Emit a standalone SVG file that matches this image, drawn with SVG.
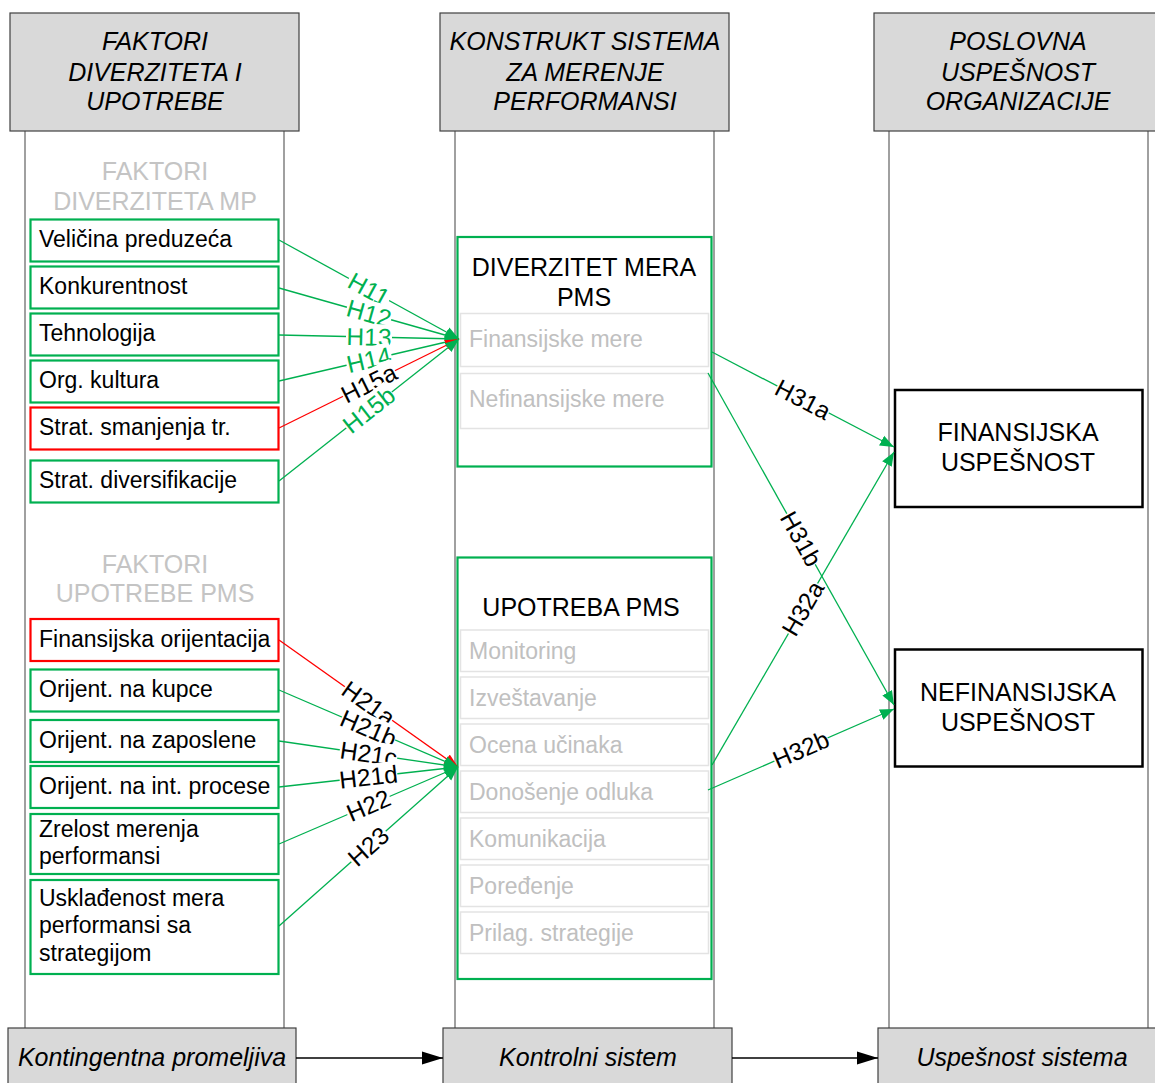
<svg xmlns="http://www.w3.org/2000/svg" width="1155" height="1083" viewBox="0 0 1155 1083">
<defs>
<style>
text{font-family:"Liberation Sans",Arial,sans-serif}
.hdr{fill:#d9d9d9;stroke:#404040;stroke-width:1.2}
.hdrt{font-size:25px;font-style:italic;fill:#000;text-anchor:middle}
.lane{stroke:#808080;stroke-width:1.5;fill:none}
.sec{font-size:25px;fill:#c4c4c4;text-anchor:middle}
.gb{fill:#fff;stroke:#00b050;stroke-width:2.2}
.rb{fill:#fff;stroke:#ff0000;stroke-width:2.2}
.bt{font-size:23px;fill:#000}
.sub{fill:#fff;stroke:#e3e3e3;stroke-width:1.5}
.subt{font-size:23px;fill:#c0c0c0}
.tt{font-size:25px;fill:#000;text-anchor:middle}
.kb{fill:#fff;stroke:#000;stroke-width:2.5}
.cg{stroke:#00b050;stroke-width:1.3;fill:none}
.cr{stroke:#ff0000;stroke-width:1.3;fill:none}
.ck{stroke:#000;stroke-width:1.5;fill:none}
.lbg{fill:#fff}
.lbl{font-size:24.5px;text-anchor:middle}
.lg{fill:#00b050}
.lk{fill:#000}
</style>
<marker id="ag" markerWidth="15" markerHeight="12" refX="14" refY="6" orient="auto" markerUnits="userSpaceOnUse"><path d="M0,0.5 L14,6 L0,11.5 z" fill="#00b050"/></marker>
<marker id="ar" markerWidth="15" markerHeight="12" refX="14" refY="6" orient="auto" markerUnits="userSpaceOnUse"><path d="M0,0.5 L14,6 L0,11.5 z" fill="#ff0000"/></marker>
<marker id="ak" markerWidth="22" markerHeight="14" refX="21" refY="7" orient="auto" markerUnits="userSpaceOnUse"><path d="M0,0.5 L21,7 L0,13.5 z" fill="#000"/></marker>
</defs>
<rect width="1155" height="1083" fill="#fff"/>

<!-- lanes -->
<g id="lanes">
<line class="lane" x1="25" y1="131" x2="25" y2="1028"/>
<line class="lane" x1="284" y1="131" x2="284" y2="1028"/>
<line class="lane" x1="455" y1="131" x2="455" y2="1028"/>
<line class="lane" x1="714" y1="131" x2="714" y2="1028"/>
<line class="lane" x1="889" y1="131" x2="889" y2="1028"/>
<line class="lane" x1="1148" y1="131" x2="1148" y2="1028"/>
</g>

<!-- headers -->
<g id="hdr-left">
<rect class="hdr" x="10" y="13" width="289" height="118"/>
<text class="hdrt" x="155" y="50">FAKTORI</text>
<text class="hdrt" x="155" y="80.5">DIVERZITETA I</text>
<text class="hdrt" x="155" y="110">UPOTREBE</text>
</g>
<g id="hdr-mid">
<rect class="hdr" x="440" y="13" width="289" height="118"/>
<text class="hdrt" x="585" y="50">KONSTRUKT SISTEMA</text>
<text class="hdrt" x="585" y="80.5">ZA MERENJE</text>
<text class="hdrt" x="585" y="110">PERFORMANSI</text>
</g>
<g id="hdr-right">
<rect class="hdr" x="874" y="13" width="289" height="118"/>
<text class="hdrt" x="1018" y="50">POSLOVNA</text>
<text class="hdrt" x="1018" y="80.5">USPEŠNOST</text>
<text class="hdrt" x="1018" y="110">ORGANIZACIJE</text>
</g>

<!-- section labels -->
<g id="sec-div">
<text class="sec" x="155" y="180">FAKTORI</text>
<text class="sec" x="155" y="210">DIVERZITETA MP</text>
</g>
<g id="sec-upo">
<text class="sec" x="155" y="573">FAKTORI</text>
<text class="sec" x="155" y="602">UPOTREBE PMS</text>
</g>

<!-- left boxes -->
<g id="n-velicina"><rect class="gb" x="30.5" y="219.5" width="248" height="42"/><text class="bt" x="39" y="247">Veličina preduzeća</text></g>
<g id="n-konkurentnost"><rect class="gb" x="30.5" y="266.5" width="248" height="42"/><text class="bt" x="39" y="294">Konkurentnost</text></g>
<g id="n-tehnologija"><rect class="gb" x="30.5" y="313.5" width="248" height="42"/><text class="bt" x="39" y="341">Tehnologija</text></g>
<g id="n-orgkultura"><rect class="gb" x="30.5" y="360.5" width="248" height="42"/><text class="bt" x="39" y="388">Org. kultura</text></g>
<g id="n-smanjenja"><rect class="rb" x="30.5" y="407.5" width="248" height="42"/><text class="bt" x="39" y="435">Strat. smanjenja tr.</text></g>
<g id="n-diversif"><rect class="gb" x="30.5" y="460.5" width="248" height="42"/><text class="bt" x="39" y="488">Strat. diversifikacije</text></g>

<g id="n-finor"><rect class="rb" x="30.5" y="619" width="248" height="42"/><text class="bt" x="39" y="647">Finansijska orijentacija</text></g>
<g id="n-kupce"><rect class="gb" x="30.5" y="669.5" width="248" height="42"/><text class="bt" x="39" y="697">Orijent. na kupce</text></g>
<g id="n-zaposlene"><rect class="gb" x="30.5" y="720" width="248" height="42"/><text class="bt" x="39" y="748">Orijent. na zaposlene</text></g>
<g id="n-procese"><rect class="gb" x="30.5" y="766" width="248" height="42"/><text class="bt" x="39" y="794">Orijent. na int. procese</text></g>
<g id="n-zrelost"><rect class="gb" x="30.5" y="814" width="248" height="60"/><text class="bt" x="39" y="837">Zrelost merenja</text><text class="bt" x="39" y="864">performansi</text></g>
<g id="n-uskladjenost"><rect class="gb" x="30.5" y="880" width="248" height="94"/><text class="bt" x="39" y="906">Usklađenost mera</text><text class="bt" x="39" y="933">performansi sa</text><text class="bt" x="39" y="961">strategijom</text></g>

<!-- middle boxes -->
<g id="n-diverzitet">
<rect class="gb" x="457.5" y="237" width="254" height="229.5"/>
<text class="tt" x="584" y="276">DIVERZITET MERA</text>
<text class="tt" x="584" y="306">PMS</text>
<rect class="sub" x="460.5" y="313.5" width="248" height="53"/>
<text class="subt" x="469" y="347">Finansijske mere</text>
<rect class="sub" x="460.5" y="373.5" width="248" height="55"/>
<text class="subt" x="469" y="407">Nefinansijske mere</text>
</g>
<g id="n-upotreba">
<rect class="gb" x="457.5" y="557.5" width="254" height="421.5"/>
<text class="tt" x="581" y="616">UPOTREBA PMS</text>
<rect class="sub" x="460.5" y="630" width="248" height="41.5"/><text class="subt" x="469" y="659">Monitoring</text>
<rect class="sub" x="460.5" y="677" width="248" height="41.5"/><text class="subt" x="469" y="706">Izveštavanje</text>
<rect class="sub" x="460.5" y="724" width="248" height="41.5"/><text class="subt" x="469" y="753">Ocena učinaka</text>
<rect class="sub" x="460.5" y="771" width="248" height="41.5"/><text class="subt" x="469" y="800">Donošenje odluka</text>
<rect class="sub" x="460.5" y="818" width="248" height="41.5"/><text class="subt" x="469" y="847">Komunikacija</text>
<rect class="sub" x="460.5" y="865" width="248" height="41.5"/><text class="subt" x="469" y="894">Poređenje</text>
<rect class="sub" x="460.5" y="912" width="248" height="41.5"/><text class="subt" x="469" y="941">Prilag. strategije</text>
</g>

<!-- right boxes -->
<g id="n-finusp"><rect class="kb" x="895" y="390" width="247.5" height="117"/><text class="tt" x="1018" y="441">FINANSIJSKA</text><text class="tt" x="1018" y="471">USPEŠNOST</text></g>
<g id="n-nefinusp"><rect class="kb" x="895" y="649.5" width="247.5" height="117"/><text class="tt" x="1018" y="701">NEFINANSIJSKA</text><text class="tt" x="1018" y="731">USPEŠNOST</text></g>

<!-- bottom bar -->
<g id="b-kont"><rect class="hdr" x="8" y="1028" width="288" height="60"/><text class="hdrt" x="152" y="1066">Kontingentna promeljiva</text></g>
<g id="b-kontrol"><rect class="hdr" x="443" y="1028" width="289" height="60"/><text class="hdrt" x="588" y="1066">Kontrolni sistem</text></g>
<g id="b-uspesnost"><rect class="hdr" x="878" y="1028" width="289" height="60"/><text class="hdrt" x="1022" y="1066">Uspešnost sistema</text></g>

<!-- connectors -->
<g id="connectors">
<line class="ck" x1="296" y1="1058" x2="443" y2="1058" marker-end="url(#ak)"/>
<line class="ck" x1="732" y1="1058" x2="878" y2="1058" marker-end="url(#ak)"/>

<g id="e-h11"><line class="cg" x1="279" y1="240" x2="459" y2="339" marker-end="url(#ag)"/>
<g transform="translate(369,289.5) rotate(28.8)"><rect class="lbg" x="-23" y="-13" width="46" height="23"/><text class="lbl lg" y="8.5">H11</text></g></g>
<g id="e-h12"><line class="cg" x1="279" y1="288" x2="459" y2="339" marker-end="url(#ag)"/>
<g transform="translate(369,313.5) rotate(15.8)"><rect class="lbg" x="-23" y="-13" width="46" height="23"/><text class="lbl lg" y="8.5">H12</text></g></g>
<g id="e-h13"><line class="cg" x1="279" y1="335" x2="459" y2="339" marker-end="url(#ag)"/>
<g transform="translate(369,337) rotate(1.3)"><rect class="lbg" x="-23" y="-13" width="46" height="23"/><text class="lbl lg" y="8.5">H13</text></g></g>
<g id="e-h14"><line class="cg" x1="279" y1="381" x2="459" y2="339" marker-end="url(#ag)"/>
<g transform="translate(369,360) rotate(-13.1)"><rect class="lbg" x="-23" y="-13" width="46" height="23"/><text class="lbl lg" y="8.5">H14</text></g></g>
<g id="e-h15a"><line class="cr" x1="279" y1="428" x2="459" y2="339" marker-end="url(#ar)"/>
<g transform="translate(369,383.5) rotate(-26.3)"><rect class="lbg" x="-29" y="-13" width="58" height="23"/><text class="lbl lk" y="8.5">H15a</text></g></g>
<g id="e-h15b"><line class="cg" x1="279" y1="481" x2="459" y2="339" marker-end="url(#ag)"/>
<g transform="translate(369,410) rotate(-38.3)"><rect class="lbg" x="-29" y="-13" width="58" height="23"/><text class="lbl lg" y="8.5">H15b</text></g></g>

<g id="e-h21a"><line class="cr" x1="279" y1="640" x2="458" y2="767" marker-end="url(#ar)"/>
<g transform="translate(368.5,703.5) rotate(35.4)"><rect class="lbg" x="-29" y="-13" width="58" height="23"/><text class="lbl lk" y="8.5">H21a</text></g></g>
<g id="e-h21b"><line class="cg" x1="279" y1="690" x2="458" y2="767" marker-end="url(#ag)"/>
<g transform="translate(368.5,728.5) rotate(23.3)"><rect class="lbg" x="-29" y="-13" width="58" height="23"/><text class="lbl lk" y="8.5">H21b</text></g></g>
<g id="e-h21c"><line class="cg" x1="279" y1="741" x2="458" y2="767" marker-end="url(#ag)"/>
<g transform="translate(368.5,754) rotate(8.3)"><rect class="lbg" x="-29" y="-13" width="58" height="23"/><text class="lbl lk" y="8.5">H21c</text></g></g>
<g id="e-h21d"><line class="cg" x1="279" y1="787" x2="458" y2="767" marker-end="url(#ag)"/>
<g transform="translate(368.5,777) rotate(-6.4)"><rect class="lbg" x="-29" y="-13" width="58" height="23"/><text class="lbl lk" y="8.5">H21d</text></g></g>
<g id="e-h22"><line class="cg" x1="279" y1="844" x2="458" y2="767" marker-end="url(#ag)"/>
<g transform="translate(368.5,805.5) rotate(-23.3)"><rect class="lbg" x="-23" y="-13" width="46" height="23"/><text class="lbl lk" y="8.5">H22</text></g></g>
<g id="e-h23"><line class="cg" x1="279" y1="926" x2="458" y2="767" marker-end="url(#ag)"/>
<g transform="translate(368.5,846.5) rotate(-41.6)"><rect class="lbg" x="-23" y="-13" width="46" height="23"/><text class="lbl lk" y="8.5">H23</text></g></g>

<g id="e-h31a"><line class="cg" x1="712" y1="352" x2="894" y2="447" marker-end="url(#ag)"/>
<g transform="translate(803,399.5) rotate(27.6)"><rect class="lbg" x="-29" y="-13" width="58" height="23"/><text class="lbl lk" y="8.5">H31a</text></g></g>
<g id="e-h31b"><line class="cg" x1="708" y1="373" x2="894" y2="705" marker-end="url(#ag)"/>
<g transform="translate(801,539) rotate(60.7)"><rect class="lbg" x="-29" y="-13" width="58" height="23"/><text class="lbl lk" y="8.5">H31b</text></g></g>
<g id="e-h32a"><line class="cg" x1="712" y1="765" x2="894" y2="452" marker-end="url(#ag)"/>
<g transform="translate(803,608.5) rotate(-59.8)"><rect class="lbg" x="-29" y="-13" width="58" height="23"/><text class="lbl lk" y="8.5">H32a</text></g></g>
<g id="e-h32b"><line class="cg" x1="708" y1="790" x2="894" y2="709" marker-end="url(#ag)"/>
<g transform="translate(801,749.5) rotate(-23.5)"><rect class="lbg" x="-29" y="-13" width="58" height="23"/><text class="lbl lk" y="8.5">H32b</text></g></g>
</g>
</svg>
